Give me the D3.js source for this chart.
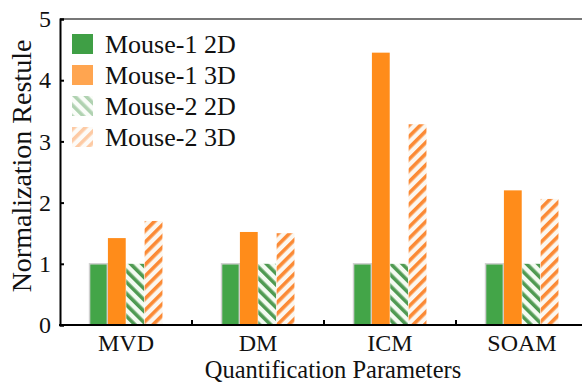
<!DOCTYPE html>
<html>
<head>
<meta charset="utf-8">
<script src="https://cdn.jsdelivr.net/npm/d3@7"></script>
<style>
  body { margin: 0; background: #fff; }
  text { font-family: "Liberation Serif", "Times New Roman", serif; }
</style>
</head>
<body>
<script>
const categories = ["MVD", "DM", "ICM", "SOAM"];
const seriesNames = ["Mouse-1 2D", "Mouse-1 3D", "Mouse-2 2D", "Mouse-2 3D"];
const mouse1_2d = [1, 1, 1, 1];
const mouse1_3d = [1.42, 1.52, 4.45, 2.2];
const mouse2_2d = [1, 1, 1, 1];
const mouse2_3d = [1.7, 1.5, 3.28, 2.06];
const yTicks = [0, 1, 2, 3, 4, 5];

const width = 582, height = 384;
const svg = d3.select("body").append("svg")
    .attr("width", width).attr("height", height);

const x0 = 60, x1 = 588, yTop = 19, yBot = 325;

const xscale = d3.scaleBand().domain(categories).range([x0, x1]);
const yscale = d3.scaleLinear().domain([0, 5]).range([yBot, yTop]);
const inner = d3.scaleBand().domain(seriesNames).range([-37, 37]).padding(0.03);

// patterns
const defs = svg.append("defs");
function hatch(id, bg, stripe, angle) {
    const p = defs.append("pattern").attr("id", id)
        .attr("patternUnits", "userSpaceOnUse")
        .attr("width", 8).attr("height", 8)
        .attr("patternTransform", "rotate(" + angle + ")");
    p.append("rect").attr("width", 8).attr("height", 8).attr("fill", bg);
    p.append("rect").attr("width", 3.6).attr("height", 8).attr("fill", stripe);
}
hatch("h2d", "#f4fbf2", "#4f9a52", -45);
hatch("h3d", "#fbf7f0", "#fb8a35", 45);

const fills = ["#43a548", "#ff8c1a", "url(#h2d)", "url(#h3d)"];
const seriesData = [mouse1_2d, mouse1_3d, mouse2_2d, mouse2_3d];

// frame: top line
svg.append("line").attr("x1", x0).attr("x2", width).attr("y1", yTop).attr("y2", yTop)
    .attr("stroke", "#777").attr("stroke-width", 2);

// bars
seriesNames.forEach((s, i) => {
    svg.append("g").selectAll("rect").data(categories).enter().append("rect")
        .attr("x", c => xscale(c) + xscale.bandwidth() / 2 + inner(s))
        .attr("y", (c, j) => yscale(seriesData[i][j]))
        .attr("width", inner.bandwidth())
        .attr("height", (c, j) => yBot - yscale(seriesData[i][j]))
        .attr("fill", fills[i])
        .attr("stroke", i == 0 ? "#d0d0d0" : "none")
        .attr("stroke-width", 1.5);
});

// axes
const yAxis = d3.axisLeft(yscale).tickValues(yTicks).tickSize(-4).tickPadding(9).tickFormat(d3.format("d"));
svg.append("g").attr("transform", "translate(" + x0 + ",0)").call(yAxis)
    .attr("font-family", null)
    .call(g => g.select(".domain").attr("stroke", "#000").attr("stroke-width", 2))
    .call(g => g.selectAll("line").attr("stroke-width", 2))
    .call(g => g.selectAll("text").attr("font-size", 24).attr("fill", "#111"));

svg.append("line").attr("x1", x0 - 1).attr("x2", width).attr("y1", yBot).attr("y2", yBot)
    .attr("stroke", "#000").attr("stroke-width", 2);

// separator ticks between categories
svg.append("g").selectAll("line").data(categories.slice(1)).enter().append("line")
    .attr("x1", c => xscale(c)).attr("x2", c => xscale(c))
    .attr("y1", yBot).attr("y2", yBot - 5)
    .attr("stroke", "#000").attr("stroke-width", 2);

svg.append("g").selectAll("text").data(categories).enter().append("text")
    .attr("x", c => xscale(c) + xscale.bandwidth() / 2)
    .attr("y", 351)
    .attr("text-anchor", "middle")
    .attr("font-size", 24).attr("fill", "#111")
    .text(c => c);

svg.append("text").attr("x", 333).attr("y", 378)
    .attr("text-anchor", "middle").attr("font-size", 24.5).attr("fill", "#111")
    .text("Quantification Parameters");

svg.append("text").attr("transform", "translate(31,166) rotate(-90)")
    .attr("text-anchor", "middle").attr("font-size", 28).attr("fill", "#111")
    .text("Normalization Restule");

// legend
const legendFills = ["#3f9f45", "#ffa550", "url(#h2d)", "url(#h3d)"];
const lg = svg.append("g").selectAll("g").data(seriesNames).enter().append("g")
    .attr("transform", (d, i) => "translate(72," + (34 + i * 31) + ")");
lg.append("rect").attr("width", 21).attr("height", 20)
    .attr("fill", (d, i) => legendFills[i])
    .attr("opacity", (d, i) => i >= 2 ? 0.45 : 1);
lg.append("text").attr("x", 33).attr("y", 19).attr("font-size", 26).attr("fill", "#111")
    .text(d => d);
</script>
</body>
</html>
